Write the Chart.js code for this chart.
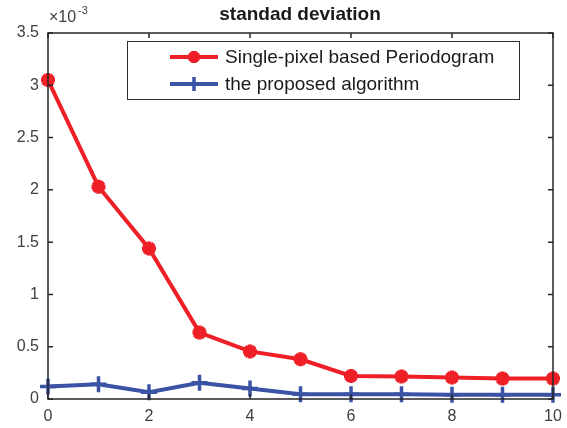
<!DOCTYPE html>
<html>
<head>
<meta charset="utf-8">
<script src="https://cdn.jsdelivr.net/npm/chart.js@4"></script>
<style>
  html, body { margin: 0; padding: 0; background: #fff; }
  #wrap { width: 567px; height: 428px; }
</style>
</head>
<body>
<div id="wrap"><canvas id="grafico" width="567" height="428"></canvas></div>
<script>
// datos
const ejeX = [0, 1, 2, 3, 4, 5, 6, 7, 8, 9, 10];
const periodograma = [0.00305, 0.00203, 0.00144, 0.000635, 0.000455, 0.00038, 0.00022, 0.000215, 0.000205, 0.000195, 0.000195];
const propuesto = [0.00012, 0.00014, 0.000065, 0.000155, 0.0001, 0.000045, 0.000045, 0.000045, 0.00004, 0.00004, 0.00004];
const nombres = ['Single-pixel based Periodogram', 'the proposed algorithm'];
const titulo = 'standad deviation';
const ticksX = [0, 2, 4, 6, 8, 10];
const ticksY = [0, 0.0005, 0.001, 0.0015, 0.002, 0.0025, 0.003, 0.0035];
const etiquetasY = ['0', '0.5', '1', '1.5', '2', '2.5', '3', '3.5'];

const gris = '#262626';
const grisTexto = '#404040';
const fuente = '"Liberation Sans", Arial, sans-serif';

// caja, ticks hacia dentro, etiquetas, titulo, exponente y leyenda estilo matlab
const estiloMatlab = {
  id: 'estiloMatlab',
  afterDatasetsDraw(chart) {
    const ctx = chart.ctx;
    const a = chart.chartArea;
    const sx = chart.scales.x, sy = chart.scales.y;
    ctx.save();
    ctx.strokeStyle = gris;
    ctx.lineWidth = 1.5;
    ctx.strokeRect(a.left, a.top, a.right - a.left, a.bottom - a.top);
    ctx.beginPath();
    ticksX.forEach(v => {
      const x = sx.getPixelForValue(v);
      ctx.moveTo(x, a.bottom); ctx.lineTo(x, a.bottom - 5);
      ctx.moveTo(x, a.top); ctx.lineTo(x, a.top + 5);
    });
    ticksY.forEach(v => {
      const y = sy.getPixelForValue(v);
      ctx.moveTo(a.left, y); ctx.lineTo(a.left + 5, y);
      ctx.moveTo(a.right, y); ctx.lineTo(a.right - 5, y);
    });
    ctx.stroke();

    // etiquetas de los ejes
    ctx.fillStyle = grisTexto;
    ctx.font = '16px ' + fuente;
    ctx.textBaseline = 'middle';
    ctx.textAlign = 'center';
    ticksX.forEach(v => {
      ctx.fillText(String(v), sx.getPixelForValue(v), a.bottom + 18);
    });
    ctx.textAlign = 'right';
    ticksY.forEach((v, i) => {
      ctx.fillText(etiquetasY[i], a.left - 9, sy.getPixelForValue(v));
    });

    // titulo
    ctx.fillStyle = '#1a1a1a';
    ctx.font = 'bold 19px ' + fuente;
    ctx.textAlign = 'center';
    ctx.fillText(titulo, 300, 15);

    // exponente
    ctx.fillStyle = grisTexto;
    ctx.textAlign = 'left';
    ctx.font = '16px ' + fuente;
    ctx.fillText('\u00d710', a.left + 1, 18);
    ctx.font = '11px ' + fuente;
    ctx.fillText('-3', a.left + 30, 11);

    // leyenda
    const lx = 127, ly = 41, lw = 392, lh = 58;
    ctx.fillStyle = '#fff';
    ctx.fillRect(lx, ly, lw, lh);
    ctx.strokeStyle = '#303030';
    ctx.lineWidth = 1;
    ctx.strokeRect(lx + 0.5, ly + 0.5, lw, lh);
    chart.data.datasets.forEach((ds, i) => {
      const y = 57 + i * 27;
      ctx.strokeStyle = ds.borderColor;
      ctx.fillStyle = ds.borderColor;
      ctx.lineWidth = ds.borderWidth;
      ctx.beginPath();
      ctx.moveTo(170, y); ctx.lineTo(218, y);
      ctx.stroke();
      ctx.lineWidth = ds.pointBorderWidth;
      Chart.helpers.drawPoint(ctx, {
        pointStyle: ds.pointStyle,
        radius: ds.pointRadius - 1,
        borderWidth: ds.pointBorderWidth,
        rotation: 0
      }, 194, y);
      ctx.fillStyle = '#1a1a1a';
      ctx.font = '19px ' + fuente;
      ctx.textAlign = 'left';
      ctx.textBaseline = 'middle';
      ctx.fillText(ds.label, 225, y + 1);
    });
    ctx.restore();
  }
};

const fondoBlanco = {
  id: 'fondoBlanco',
  beforeDraw(chart) {
    const ctx = chart.ctx;
    ctx.save();
    ctx.fillStyle = '#fff';
    ctx.fillRect(0, 0, chart.width, chart.height);
    ctx.restore();
  }
};

const config = {
  type: 'line',
  data: {
    labels: ejeX,
    datasets: [{
      label: nombres[0],
      data: ejeX.map((x, i) => ({ x: x, y: periodograma[i] })),
      borderColor: '#ee1f26',
      backgroundColor: '#ee1f26',
      borderWidth: 4,
      pointStyle: 'star',
      pointRadius: 7,
      pointBorderWidth: 4.5,
      pointBorderColor: '#ee1f26',
      pointBackgroundColor: '#ee1f26',
      clip: false
    }, {
      label: nombres[1],
      data: ejeX.map((x, i) => ({ x: x, y: propuesto[i] })),
      borderColor: '#3a53a4',
      backgroundColor: '#3a53a4',
      borderWidth: 4,
      pointStyle: 'cross',
      pointRadius: 8,
      pointBorderWidth: 3.5,
      pointBorderColor: '#3a53a4',
      pointBackgroundColor: '#3a53a4',
      clip: false
    }]
  },
  options: {
    responsive: false,
    animation: false,
    layout: { padding: { top: 33, right: 14, left: 0, bottom: 0 } },
    plugins: {
      legend: { display: false },
      title: { display: false },
      tooltip: { enabled: false }
    },
    scales: {
      x: {
        type: 'linear',
        min: 0, max: 10,
        grid: { display: false, drawTicks: false },
        border: { display: false },
        ticks: { display: false },
        afterFit: s => { s.height = 29; }
      },
      y: {
        min: 0, max: 0.0035,
        grid: { display: false, drawTicks: false },
        border: { display: false },
        ticks: { display: false },
        afterFit: s => { s.width = 48; }
      }
    }
  },
  plugins: [fondoBlanco, estiloMatlab]
};

new Chart(document.getElementById('grafico'), config);
</script>
</body>
</html>
